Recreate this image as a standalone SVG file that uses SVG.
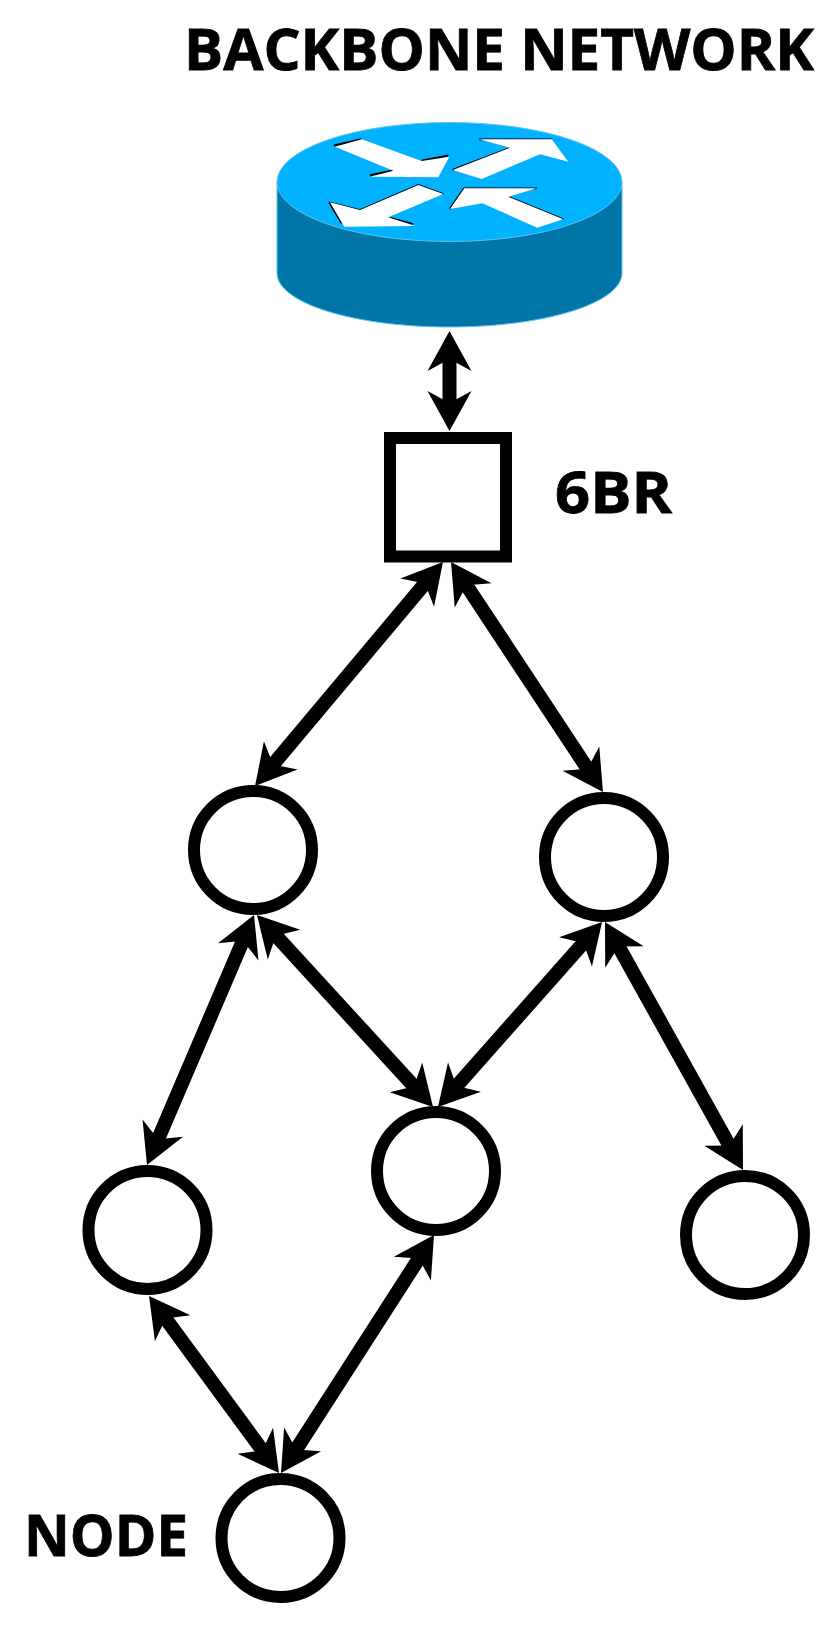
<svg xmlns="http://www.w3.org/2000/svg" width="839" height="1628" viewBox="0 0 839 1628">
<style>
.n{fill:#fff;stroke:#000;stroke-width:12}
.c{stroke:#000;stroke-width:14;fill:none}
.h{fill:#000}
.t{font-family:"Open Sans","DejaVu Sans",sans-serif;font-weight:700;font-size:58px;fill:#000;stroke:#000;stroke-width:.8}
.w{fill:#fff}
.k{stroke:#000;fill:none;stroke-width:7}
.k2{stroke:#000;fill:none;stroke-width:5}
</style>
<defs>
<marker id="a" markerUnits="userSpaceOnUse" markerWidth="60" markerHeight="60" refX="25" refY="30" orient="auto-start-reverse" overflow="visible">
<path class="h" d="M40 30L0 8L12 30L0 52Z"/>
</marker>
</defs>
<rect width="839" height="1628" fill="#fff"/>
<g id="router">
<path d="M277 182V273C277 303 354 327 449.500 327S622 303 622 273V182Z" fill="#0076a8" stroke="#5cc4ee" stroke-width="1"/>
<ellipse cx="449.500" cy="182" rx="172.500" ry="59.500" fill="#00b2ff" stroke="#5cc4ee" stroke-width="1"/>
<g transform="translate(250 100) scale(.33333)">
<path class="k" d="M252 137L335 118M515 183L595 167M360 226L430 212"/>
<path class="k" d="M608 210L785 143M600 327L643 265"/>
<path class="k2" d="M688 118H905M643 265H860M237 307L330 330L505 255L580 282M237 307L275 370M415 352L490 372M775 290L940 358"/>
<path class="w" d="M255 140L335 118L515 183L598 170L565 232L360 230L430 212Z"/>
<path class="w" d="M608 210L780 143L688 118H905L955 185L870 163L695 237Z"/>
<path class="w" d="M240 307L330 330L505 255L580 282L415 352L495 378L283 380Z"/>
<path class="w" d="M600 327L643 265H860L775 290L940 358L862 383L697 310Z"/>
</g>
</g>
<g id="connectors">
<line class="c" x1="449.500" y1="346" x2="449.500" y2="416" marker-start="url(#a)" marker-end="url(#a)"/>
<line class="c" x1="433.300" y1="573.500" x2="264.700" y2="774.500" marker-start="url(#a)" marker-end="url(#a)"/>
<line class="c" x1="459.300" y1="574.500" x2="594.700" y2="779.500" marker-start="url(#a)" marker-end="url(#a)"/>
<line class="c" x1="248.100" y1="928.800" x2="152.900" y2="1151.200" marker-start="url(#a)" marker-end="url(#a)"/>
<line class="c" x1="267.100" y1="926.100" x2="422.900" y2="1095.900" marker-start="url(#a)" marker-end="url(#a)"/>
<line class="c" x1="592.100" y1="933.200" x2="447.900" y2="1095.800" marker-start="url(#a)" marker-end="url(#a)"/>
<line class="c" x1="612.300" y1="935.100" x2="735.700" y2="1156.900" marker-start="url(#a)" marker-end="url(#a)"/>
<line class="c" x1="157.900" y1="1308.100" x2="270.100" y2="1460.900" marker-start="url(#a)" marker-end="url(#a)"/>
<line class="c" x1="425.900" y1="1247.600" x2="289.100" y2="1460.400" marker-start="url(#a)" marker-end="url(#a)"/>
</g>
<g id="br6"><rect class="n" x="390" y="438" width="116" height="118.500"/><text class="t" x="555" y="513" textLength="117" lengthAdjust="spacingAndGlyphs">6BR</text></g>
<g id="n1"><circle class="n" cx="253" cy="850" r="59"/></g>
<g id="n2"><circle class="n" cx="604" cy="857" r="59"/></g>
<g id="n3"><circle class="n" cx="147.500" cy="1230" r="59"/></g>
<g id="n4"><circle class="n" cx="436" cy="1171" r="59"/></g>
<g id="n5"><circle class="n" cx="745" cy="1235" r="59"/></g>
<g id="n6"><circle class="n" cx="280.500" cy="1538" r="59"/><text class="t" x="24" y="1556" textLength="164" lengthAdjust="spacingAndGlyphs">NODE</text></g>
<g id="title"><text class="t" x="184" y="70" textLength="630" lengthAdjust="spacingAndGlyphs">BACKBONE NETWORK</text></g>
</svg>
